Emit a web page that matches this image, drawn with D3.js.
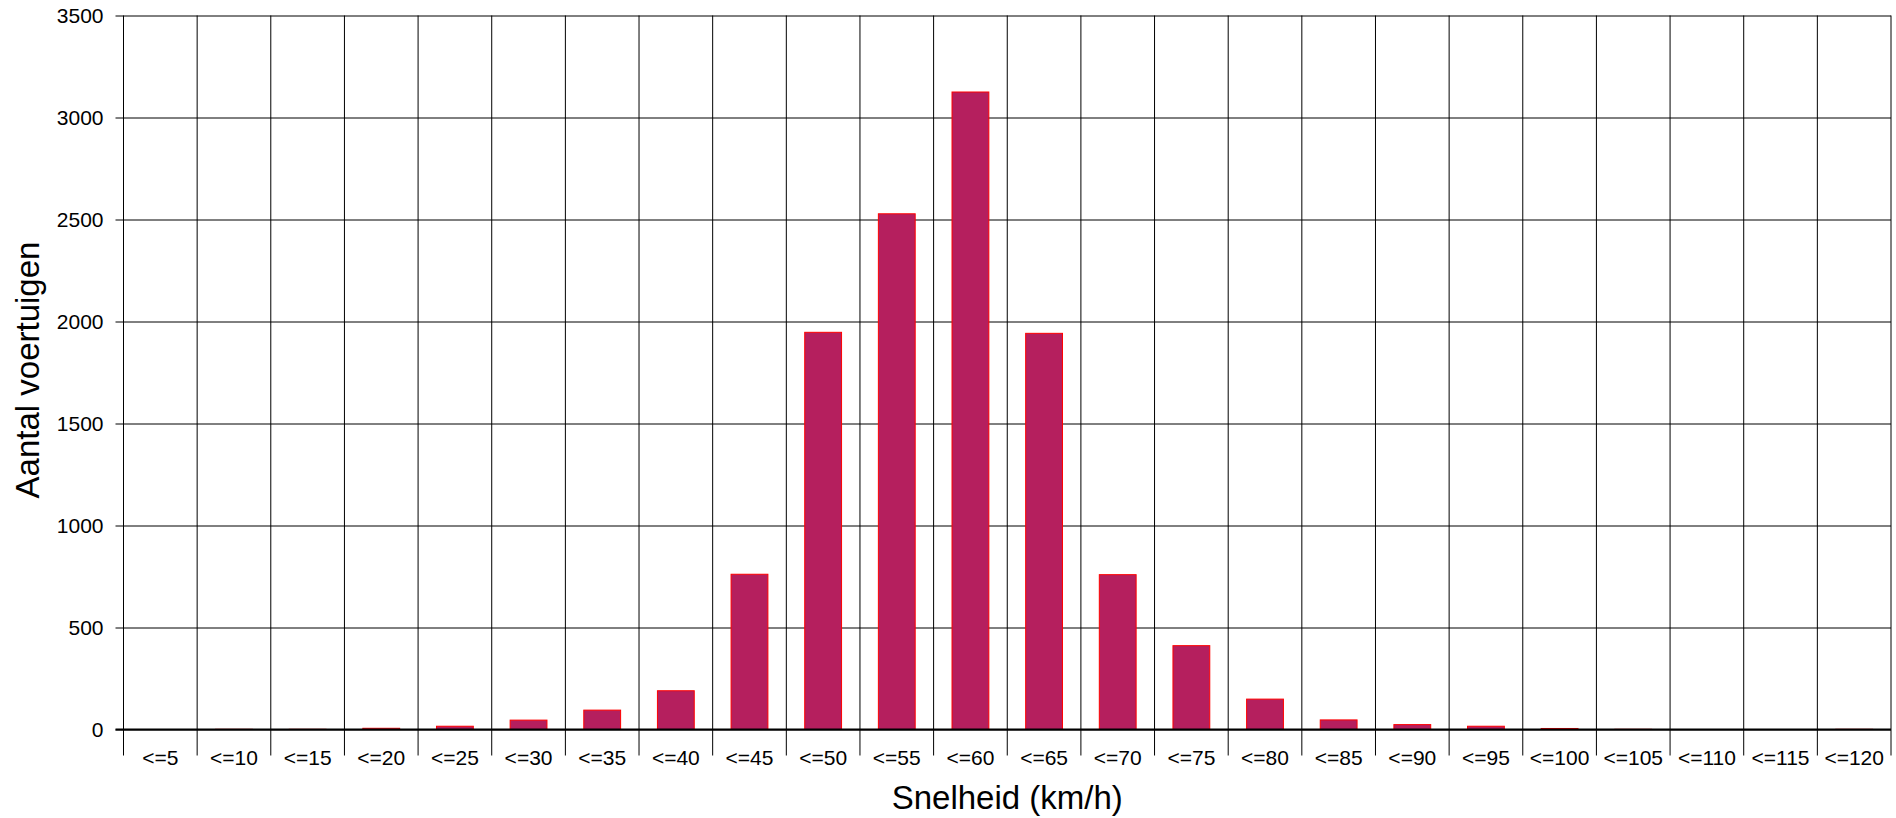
<!DOCTYPE html>
<html>
<head>
<meta charset="utf-8">
<script src="https://cdn.jsdelivr.net/npm/d3@7"></script>
<style>
  html, body { margin: 0; padding: 0; background: #fff; }
  svg { display: block; font-family: "Liberation Sans", Arial, sans-serif; }
</style>
</head>
<body>
<svg id="chart" width="1896" height="818"></svg>
<script>
// ---- data ----
const categories = ["<=5","<=10","<=15","<=20","<=25","<=30","<=35","<=40","<=45","<=50","<=55","<=60",
                    "<=65","<=70","<=75","<=80","<=85","<=90","<=95","<=100","<=105","<=110","<=115","<=120"];
const counts = [0, 1, 1, 6, 16, 46, 95, 190, 761, 1947, 2528, 3125,
                1942, 759, 411, 149, 47, 24, 16, 5, 1, 0, 0, 1];
const yTicks = [0, 500, 1000, 1500, 2000, 2500, 3000, 3500];
const yTitle = "Aantal voertuigen";
const xTitle = "Snelheid (km/h)";

// ---- layout ----
const mLeft = 123.5, mRight = 1891, mTop = 15.5, mBottom = 729.5;
const svg = d3.select("#chart");

const x = d3.scaleBand().domain(categories).range([mLeft, mRight])
  .paddingInner(0.5).paddingOuter(0.25);
const y = d3.scaleLinear().domain([0, 3500]).range([mBottom, mTop]);
const step = x.step();

// vertical grid lines (category boundaries), extending below the axis
svg.append("g").selectAll("line")
  .data(d3.range(categories.length + 1))
  .join("line")
  .attr("x1", i => x.range()[0] + i * step)
  .attr("x2", i => x.range()[0] + i * step)
  .attr("y1", mTop)
  .attr("y2", mBottom + 26)
  .attr("stroke", "#000")
  .attr("stroke-width", 1);

// horizontal grid lines + y tick labels
const yAxis = d3.axisLeft(y).tickValues(yTicks).tickSize(mRight - mLeft + 8).tickPadding(12)
  .tickFormat(d3.format("d"));
const gy = svg.append("g").attr("transform", `translate(${mRight},0)`).call(yAxis);
gy.select(".domain").remove();
gy.selectAll(".tick line").attr("stroke", "#000").attr("stroke-width", 1);
gy.selectAll(".tick text").attr("font-size", 21).attr("fill", "#000")
  .attr("font-family", "'Liberation Sans', Arial, sans-serif");

// bars
svg.append("g").selectAll("rect")
  .data(categories.map((c, i) => ({ c, v: counts[i] })))
  .join("rect")
  .attr("x", d => x(d.c))
  .attr("width", x.bandwidth())
  .attr("y", d => y(d.v))
  .attr("height", d => Math.max(0, mBottom - y(d.v)))
  .attr("fill", "#B51F5E")
  .attr("stroke", "#FF0000")
  .attr("stroke-width", d => d.v > 0 ? 1 : 0);

// zero baseline (thicker)
svg.append("line")
  .attr("x1", mLeft - 8).attr("x2", mRight)
  .attr("y1", y(0)).attr("y2", y(0))
  .attr("stroke", "#000").attr("stroke-width", 2.2);

// x category labels
const xAxis = d3.axisBottom(x).tickSize(0).tickPadding(0);
const gx = svg.append("g").attr("transform", `translate(0,${mBottom})`).call(xAxis);
gx.select(".domain").remove();
gx.selectAll(".tick text").attr("font-size", 21).attr("fill", "#000")
  .attr("font-family", "'Liberation Sans', Arial, sans-serif")
  .attr("dy", null).attr("y", 35);

// axis titles
svg.append("text")
  .attr("x", (mLeft + mRight) / 2).attr("y", 809)
  .attr("text-anchor", "middle")
  .attr("font-size", 33).attr("fill", "#000")
  .text(xTitle);

svg.append("text")
  .attr("transform", `translate(39,370) rotate(-90)`)
  .attr("text-anchor", "middle")
  .attr("font-size", 33).attr("fill", "#000")
  .text(yTitle);
</script>
</body>
</html>
